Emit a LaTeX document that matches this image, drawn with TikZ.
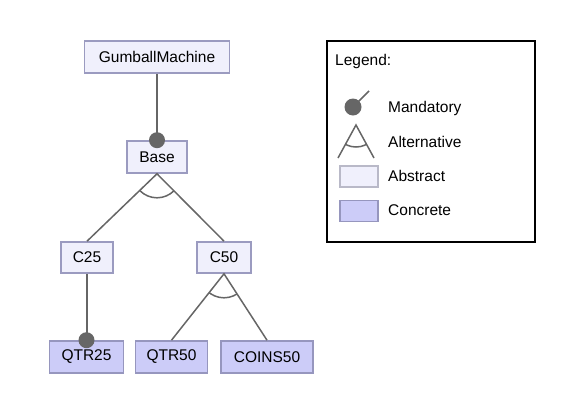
\documentclass[tikz,border=0pt]{standalone}
\usepackage{fontspec}
\setmainfont{Liberation Sans}
\definecolor{absfill}{RGB}{240,240,252}
\definecolor{absdraw}{RGB}{155,155,192}
\definecolor{absdrawlg}{RGB}{185,185,200}
\definecolor{confill}{RGB}{204,204,248}
\definecolor{condraw}{RGB}{150,150,190}
\definecolor{linegray}{RGB}{102,102,102}
\begin{document}
\begin{tikzpicture}[x=1pt,y=-1pt,
  font=\fontsize{15.5}{18}\selectfont,
  absbox/.style={draw=absdraw, fill=absfill, line width=1.6pt, inner sep=0pt, minimum height=32pt},
  conbox/.style={draw=condraw, fill=confill, line width=1.6pt, inner sep=0pt, minimum height=32pt},
  mandline/.style={draw=linegray, line width=2pt},
  altline/.style={draw=linegray, line width=1.5pt},
  dot/.style={fill=linegray},
  lbl/.style={anchor=west, inner sep=0pt}]
\useasboundingbox (0,0) rectangle (588,418);
% tree nodes
\node[absbox, minimum width=145pt] (gm) at (157,57) {GumballMachine};
\node[absbox, minimum width=60pt] (base) at (157,157) {Base};
\node[absbox, minimum width=52pt, minimum height=31pt] (c25) at (87,257.5) {C25};
\node[absbox, minimum width=54pt, minimum height=31pt] (c50) at (224,257.5) {C50};
\node[conbox, minimum width=74pt] (q25) at (86.5,357) {QTR25};
\node[conbox, minimum width=72pt] (q50) at (171.5,357) {QTR50};
\node[conbox, minimum width=92pt] (coins) at (267,357) {COINS50};
% connectors
\draw[mandline] (gm.south) -- (base.north);
\fill[dot] (base.north) circle[radius=8];
\draw[altline] (c25.north) -- (base.south) -- (c50.north);
\begin{scope}
  \clip (base.south) -- (c25.north) -- (c50.north) -- cycle;
  \draw[altline] (base.south) circle[radius=24];
\end{scope}
\draw[mandline] (c25.south -| q25.north) -- (q25.north);
\fill[dot] (q25.north) circle[radius=8];
\draw[altline] (q50.north) -- (c50.south) -- (coins.north);
\begin{scope}
  \clip (c50.south) -- (q50.north) -- (coins.north) -- cycle;
  \draw[altline] (c50.south) circle[radius=24];
\end{scope}
% legend
\node[draw=black, line width=2pt, minimum width=208pt, minimum height=201pt, inner sep=0pt] (legend) at (431,141.5) {};
\node[lbl] (lgt) at (335,61) {Legend:};
\coordinate (lmd) at (353,107);
\coordinate (lme) at (369,91);
\draw[altline] (lmd) -- (lme);
\fill[dot] (lmd) circle[radius=8.5];
\node[lbl] (lmt) at (388,108) {Mandatory};
\coordinate (la) at (356,125);
\coordinate (lb) at (338,158);
\coordinate (lc) at (374,158);
\draw[altline] (lb) -- (la) -- (lc);
\begin{scope}
  \clip (la) -- (lb) -- (lc) -- cycle;
  \draw[altline] (la) circle[radius=22];
\end{scope}
\node[lbl] (lat) at (388,142) {Alternative};
\node[draw=absdrawlg, fill=absfill, line width=1.6pt, minimum width=38pt, minimum height=21pt, inner sep=0pt] (lab) at (359,176.5) {};
\node[lbl] (labt) at (388,176) {Abstract};
\node[conbox, minimum width=38pt, minimum height=21pt] (lcb) at (359,211) {};
\node[lbl] (lct) at (388,210) {Concrete};
\end{tikzpicture}
\end{document}
